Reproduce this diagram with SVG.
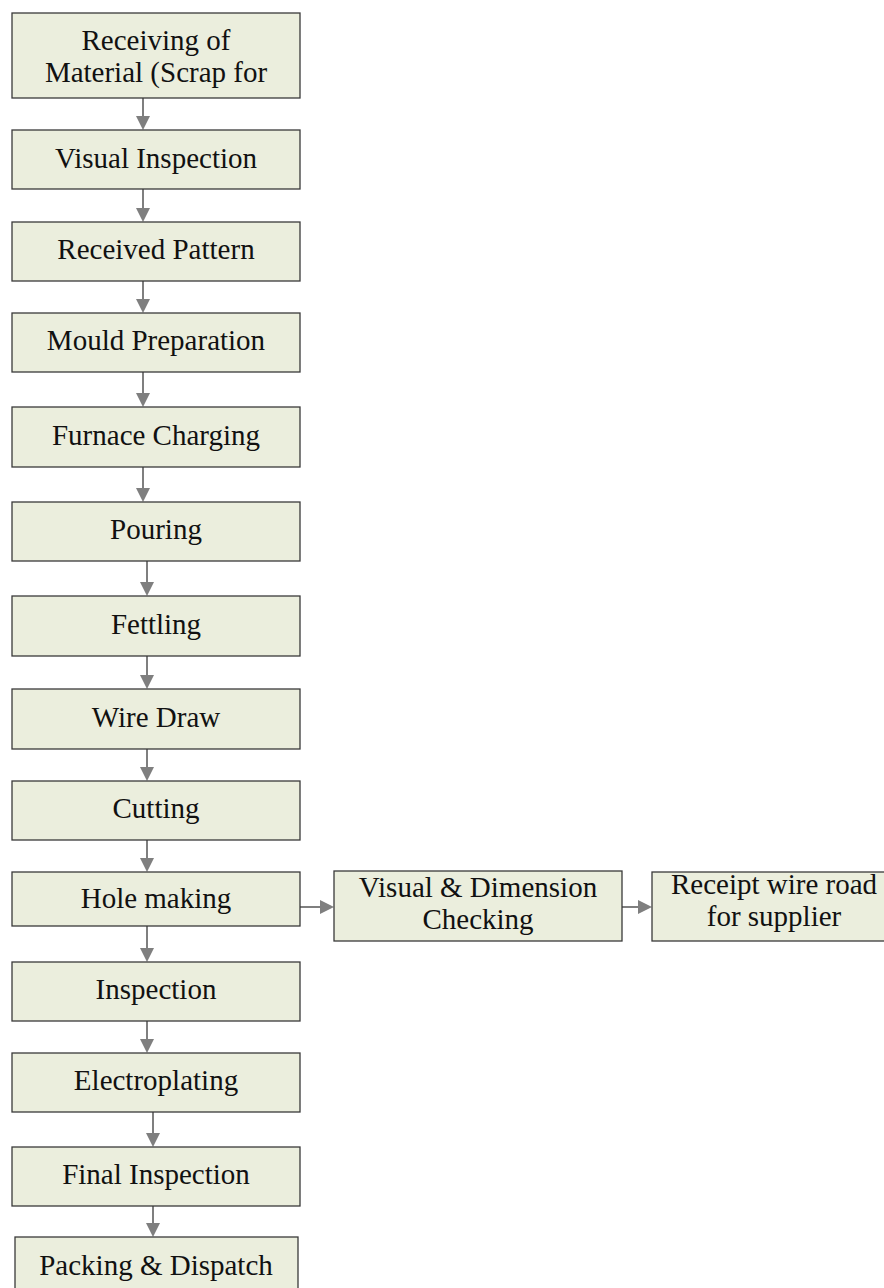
<svg xmlns="http://www.w3.org/2000/svg" width="884" height="1288" viewBox="0 0 884 1288">
<defs>
<style>
.box{fill:#EBEEDD;stroke:#3a3a3a;stroke-width:1.3}
.t{font-family:"Liberation Serif","Times New Roman",serif;font-size:29px;fill:#111;text-anchor:middle}
.c{stroke:#7f7f7f;stroke-width:2;fill:none}
.h{fill:#7f7f7f}
</style>
</defs>
<rect width="884" height="1288" fill="#ffffff"/>
<g id="connectors">
<line class="c" x1="143" y1="98" x2="143" y2="117"/><polygon class="h" points="136,116 150,116 143,130"/>
<line class="c" x1="143" y1="189" x2="143" y2="209"/><polygon class="h" points="136,208 150,208 143,222"/>
<line class="c" x1="143" y1="281" x2="143" y2="300"/><polygon class="h" points="136,299 150,299 143,313"/>
<line class="c" x1="143" y1="372" x2="143" y2="394"/><polygon class="h" points="136,393 150,393 143,407"/>
<line class="c" x1="143" y1="467" x2="143" y2="489"/><polygon class="h" points="136,488 150,488 143,502"/>
<line class="c" x1="147" y1="561" x2="147" y2="583"/><polygon class="h" points="140,582 154,582 147,596"/>
<line class="c" x1="147" y1="656" x2="147" y2="676"/><polygon class="h" points="140,675 154,675 147,689"/>
<line class="c" x1="147" y1="749" x2="147" y2="768"/><polygon class="h" points="140,767 154,767 147,781"/>
<line class="c" x1="147" y1="840" x2="147" y2="859"/><polygon class="h" points="140,858 154,858 147,872"/>
<line class="c" x1="147" y1="926" x2="147" y2="949"/><polygon class="h" points="140,948 154,948 147,962"/>
<line class="c" x1="147" y1="1021" x2="147" y2="1040"/><polygon class="h" points="140,1039 154,1039 147,1053"/>
<line class="c" x1="153" y1="1112" x2="153" y2="1134"/><polygon class="h" points="146,1133 160,1133 153,1147"/>
<line class="c" x1="153" y1="1206" x2="153" y2="1224"/><polygon class="h" points="146,1223 160,1223 153,1237"/>
<line class="c" x1="300" y1="907" x2="321" y2="907"/><polygon class="h" points="320,900 320,914 334,907"/>
<line class="c" x1="622" y1="907" x2="639" y2="907"/><polygon class="h" points="638,900 638,914 652,907"/>
</g>
<g id="n1"><rect class="box" x="12" y="13" width="288" height="85"/><text class="t" x="156" y="50">Receiving of</text><text class="t" x="156" y="82">Material (Scrap for</text></g>
<g id="n2"><rect class="box" x="12" y="130" width="288" height="59"/><text class="t" x="156" y="168">Visual Inspection</text></g>
<g id="n3"><rect class="box" x="12" y="222" width="288" height="59"/><text class="t" x="156" y="259">Received Pattern</text></g>
<g id="n4"><rect class="box" x="12" y="313" width="288" height="59"/><text class="t" x="156" y="350">Mould Preparation</text></g>
<g id="n5"><rect class="box" x="12" y="407" width="288" height="60"/><text class="t" x="156" y="445">Furnace Charging</text></g>
<g id="n6"><rect class="box" x="12" y="502" width="288" height="59"/><text class="t" x="156" y="539">Pouring</text></g>
<g id="n7"><rect class="box" x="12" y="596" width="288" height="60"/><text class="t" x="156" y="634">Fettling</text></g>
<g id="n8"><rect class="box" x="12" y="689" width="288" height="60"/><text class="t" x="156" y="727">Wire Draw</text></g>
<g id="n9"><rect class="box" x="12" y="781" width="288" height="59"/><text class="t" x="156" y="818">Cutting</text></g>
<g id="n10"><rect class="box" x="12" y="872" width="288" height="54"/><text class="t" x="156" y="908">Hole making</text></g>
<g id="n11"><rect class="box" x="12" y="962" width="288" height="59"/><text class="t" x="156" y="999">Inspection</text></g>
<g id="n12"><rect class="box" x="12" y="1053" width="288" height="59"/><text class="t" x="156" y="1090">Electroplating</text></g>
<g id="n13"><rect class="box" x="12" y="1147" width="288" height="59"/><text class="t" x="156" y="1184">Final Inspection</text></g>
<g id="n14"><rect class="box" x="15" y="1237" width="283" height="60"/><text class="t" x="156" y="1275">Packing &amp; Dispatch</text></g>
<g id="n15"><rect class="box" x="334" y="871" width="288" height="70"/><text class="t" x="478" y="897">Visual &amp; Dimension</text><text class="t" x="478" y="929">Checking</text></g>
<g id="n16"><rect class="box" x="652" y="872" width="240" height="69"/><text class="t" x="774" y="894">Receipt wire road</text><text class="t" x="774" y="926">for supplier</text></g>
</svg>
